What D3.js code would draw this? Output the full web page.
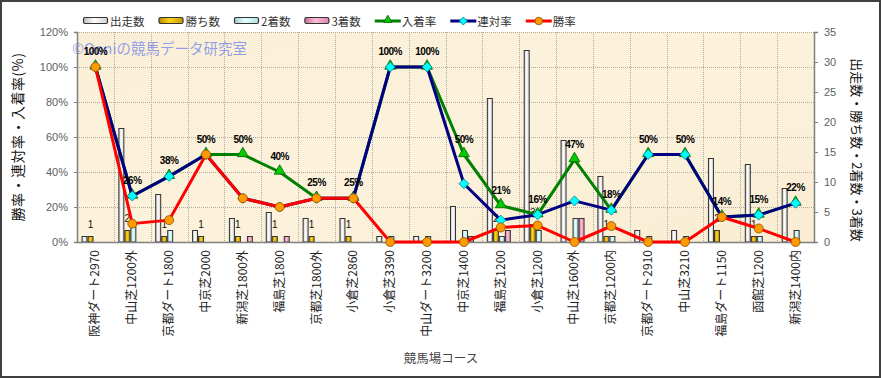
<!DOCTYPE html>
<html><head><meta charset="utf-8">
<script src="https://cdn.jsdelivr.net/npm/d3@7"></script>
<style>
html,body{margin:0;padding:0;background:#fff;}
svg{display:block;font-family:"Noto Sans CJK JP","Noto Sans",sans-serif;}
</style></head>
<body>
<svg id="chart" width="881" height="378"></svg>
<script>
const categories = ["阪神ダート2970","中山芝1200外","京都ダート1800","中京芝2000","新潟芝1800外","福島芝1800","京都芝1800外","小倉芝2860","小倉芝3390","中山ダート3200","中京芝1400","福島芝1200","小倉芝1200","中山芝1600外","京都芝1200内","京都ダート2910","中山芝3210","福島ダート1150","函館芝1200","新潟芝1400内"];
const runs   = [1,19,8,2,4,5,4,4,1,1,6,24,32,17,11,2,2,14,13,9];
const wins   = [1,2,1,1,1,1,1,1,0,0,0,2,3,0,1,0,0,2,1,0];
const second = [0,3,2,0,0,0,0,0,1,1,2,1,2,4,1,1,1,0,1,2];
const third  = [0,0,0,0,1,1,0,0,0,0,1,2,0,4,0,0,0,0,0,0];
const winRate    = [100,10.5,12.5,50,25,20,25,25,0,0,0,8.3,9.4,0,9.1,0,0,14.3,7.7,0];
const rentaiRate = [100,26.3,37.5,50,25,20,25,25,100,100,33.3,12.5,15.6,23.5,18.2,50,50,14.3,15.4,22.2];
const placeRate  = [100,26.3,37.5,50,50,40,25,25,100,100,50,20.8,15.6,47.1,18.2,50,50,14.3,15.4,22.2];
const placeLabels = ["100%","26%","38%","50%","50%","40%","25%","25%","100%","100%","50%","21%","16%","47%","18%","50%","50%","14%","15%","22%"];
const leftTicks = [0,20,40,60,80,100,120];
const rightTicks = [0,5,10,15,20,25,30,35];

const svg = d3.select("#chart");
const W = 881, H = 378;
const L = 77, R = 814, T = 32, B = 242;

// frame
svg.append("rect").attr("x",1).attr("y",1).attr("width",W-2).attr("height",H-2)
  .attr("fill","#fff").attr("stroke","#404040").attr("stroke-width",2);

const defs = svg.append("defs");
function grad(id, stops){
  const g = defs.append("linearGradient").attr("id",id).attr("x1","0").attr("x2","1").attr("y1","0").attr("y2","0");
  stops.forEach(s=>g.append("stop").attr("offset",s[0]).attr("stop-color",s[1]));
}
grad("gRuns",[[0,"#bdbdbd"],[0.45,"#ffffff"],[1,"#d0d0d0"]]);
grad("gWins",[[0,"#b88a00"],[0.45,"#ffd21a"],[1,"#c89600"]]);
grad("gSec",[[0,"#9fd0d0"],[0.45,"#e6ffff"],[1,"#b0e0e0"]]);
grad("gThird",[[0,"#c8709a"],[0.45,"#ffbcd8"],[1,"#d888aa"]]);
const plotGrad = defs.append("linearGradient").attr("id","gPlot").attr("x1","0").attr("x2","1").attr("y1","0").attr("y2","1");
plotGrad.append("stop").attr("offset",0).attr("stop-color","#faefd6");
plotGrad.append("stop").attr("offset",0.5).attr("stop-color","#fcf2dc");
plotGrad.append("stop").attr("offset",1).attr("stop-color","#f9edd3");

const x = d3.scaleBand().domain(categories).range([L,R]).paddingInner(0).paddingOuter(0);
const yL = d3.scaleLinear().domain([0,120]).range([B,T]);
const yR = d3.scaleLinear().domain([0,35]).range([B,T]);

// plot area
svg.append("rect").attr("x",L).attr("y",T).attr("width",R-L).attr("height",B-T).attr("fill","url(#gPlot)");

// gridlines
const grid = svg.append("g").attr("stroke","#b0aca0").attr("stroke-width",1).attr("stroke-dasharray","1,1");
leftTicks.filter(t=>t>0).forEach(t=>{
  grid.append("line").attr("x1",L).attr("x2",R).attr("y1",Math.round(yL(t))+0.5).attr("y2",Math.round(yL(t))+0.5);
});
categories.slice(1).forEach(c=>{
  const xx = Math.round(x(c))+0.5;
  grid.append("line").attr("x1",xx).attr("x2",xx).attr("y1",T).attr("y2",B);
});

// watermark (beneath the data)
svg.append("text").attr("x",72).attr("y",54).attr("font-size",14.5)
  .attr("fill","#6f82ee").attr("fill-opacity",0.75).text("©Ooniの競馬データ研究室");

// bars
const bw = x.bandwidth();
const barW = 6, barOff = 4.5;
const barSeries = [[runs,"gRuns"],[wins,"gWins"],[second,"gSec"],[third,"gThird"]];
const cntG = svg.append("g");
categories.forEach((c,i)=>{
  if(wins[i]>0){
    cntG.append("text").attr("x",x(c)+barOff+barW*1.5).attr("y",yR(wins[i])-8)
      .attr("text-anchor","middle").attr("font-size",10).attr("fill","#111")
      .attr("font-family","Liberation Sans, Arial, sans-serif").text(wins[i]);
  }
});
const barsG = svg.append("g");
barSeries.forEach((s,k)=>{
  categories.forEach((c,i)=>{
    const v = s[0][i];
    if(v<=0) return;
    barsG.append("rect").attr("x",x(c)+barOff+k*barW+0.5).attr("y",yR(v)+0.5)
      .attr("width",barW-1).attr("height",B-yR(v)-0.5)
      .attr("fill",`url(#${s[1]})`).attr("stroke","#333").attr("stroke-width",1);
  });
});

// axes
const axL = svg.append("g").attr("transform",`translate(${L},0)`)
  .call(d3.axisLeft(yL).tickValues(leftTicks).tickFormat(d=>d+"%").tickSize(3).tickPadding(6));
const axR = svg.append("g").attr("transform",`translate(${R},0)`)
  .call(d3.axisRight(yR).tickValues(rightTicks).tickSize(4).tickPadding(6));
[axL,axR].forEach(a=>{
  a.select(".domain").attr("stroke","#808080").attr("stroke-width",1.5);
  a.selectAll(".tick line").attr("stroke","#808080");
  a.selectAll("text").attr("fill","#606060").attr("font-size",11)
    .attr("font-family","Liberation Sans, Arial, sans-serif");
});
const axB = svg.append("g").attr("transform",`translate(0,${B})`)
  .call(d3.axisBottom(x).tickSize(0).tickPadding(8));
axB.select(".domain").attr("stroke","#808080").attr("stroke-width",1.5);
axB.selectAll("text").attr("fill","#222").attr("font-size",12)
  .attr("font-family","Noto Sans CJK JP, sans-serif")
  .attr("x",0).attr("y",0).attr("dy",null)
  .attr("text-anchor","end")
  .attr("transform","translate(0,8) rotate(-90) translate(0,4)");

// lines
const cx = c=>x(c)+bw/2;
function drawLine(vals,color){
  const line = d3.line().x((d,i)=>cx(categories[i])).y(d=>yL(d));
  svg.append("path").datum(vals).attr("d",line).attr("fill","none")
    .attr("stroke",color).attr("stroke-width",3).attr("stroke-linejoin","round");
}
drawLine(placeRate,"#008000");
const triG = svg.append("g");
placeRate.forEach((v,i)=>{
  triG.append("path").attr("d",d3.symbol(d3.symbolTriangle,52)())
    .attr("transform",`translate(${cx(categories[i])},${yL(v)-1})`)
    .attr("fill","#00cc00").attr("stroke","#006000").attr("stroke-width",0.8);
});
drawLine(rentaiRate,"#000080");
const diaG = svg.append("g");
rentaiRate.forEach((v,i)=>{
  diaG.append("path").attr("d","M0,-5L5,0L0,5L-5,0Z")
    .attr("transform",`translate(${cx(categories[i])},${yL(v)})`)
    .attr("fill","#00ffff").attr("stroke","#008080").attr("stroke-width",0.8);
});
drawLine(winRate,"#ff0000");
const cirG = svg.append("g");
winRate.forEach((v,i)=>{
  cirG.append("circle").attr("cx",cx(categories[i])).attr("cy",yL(v)).attr("r",4.5)
    .attr("fill","#ff9900").attr("stroke","#8a5000").attr("stroke-width",0.8);
});

// rate labels
placeRate.forEach((v,i)=>{
  svg.append("text").attr("x",cx(categories[i])).attr("y",yL(v)-12)
    .attr("text-anchor","middle").attr("font-size",10).attr("font-weight","bold")
    .attr("letter-spacing","-0.5").attr("fill","#000")
    .attr("font-family","Liberation Sans, Arial, sans-serif").text(placeLabels[i]);
});

// axis titles
svg.append("text").attr("transform",`translate(23,137) rotate(-90)`).attr("text-anchor","middle")
  .attr("font-size",14).attr("letter-spacing","0.5").attr("fill","#111").text("勝率・連対率・入着率(%)");
svg.append("text").attr("transform",`translate(852,150) rotate(90)`).attr("text-anchor","middle")
  .attr("font-size",13).attr("fill","#111").text("出走数・勝ち数・2着数・3着数");
svg.append("text").attr("x",441).attr("y",363).attr("text-anchor","middle")
  .attr("font-size",12.5).attr("fill","#444").text("競馬場コース");

// legend
const legendItems = [
  {name:"出走数",type:"bar",fill:"gRuns"},
  {name:"勝ち数",type:"bar",fill:"gWins"},
  {name:"2着数",type:"bar",fill:"gSec"},
  {name:"3着数",type:"bar",fill:"gThird"},
  {name:"入着率",type:"line",color:"#008000",marker:"tri"},
  {name:"連対率",type:"line",color:"#000080",marker:"dia"},
  {name:"勝率",type:"line",color:"#ff0000",marker:"cir"}
];
const lg = svg.append("g");
let lx = 83; const ly = 21;
legendItems.forEach(it=>{
  if(it.type==="bar"){
    lg.append("rect").attr("x",lx+0.5).attr("y",ly-3.5).attr("width",24).attr("height",6)
      .attr("rx",1.5).attr("fill",`url(#${it.fill})`).attr("stroke","#333").attr("stroke-width",1.2);
  } else {
    lg.append("line").attr("x1",lx).attr("x2",lx+26).attr("y1",ly).attr("y2",ly)
      .attr("stroke",it.color).attr("stroke-width",3);
    const mx = lx+13;
    if(it.marker==="tri") lg.append("path").attr("d",d3.symbol(d3.symbolTriangle,30)()).attr("transform",`translate(${mx},${ly-1})`).attr("fill","#00cc00").attr("stroke","#006000").attr("stroke-width",0.8);
    if(it.marker==="dia") lg.append("path").attr("d","M0,-4L4,0L0,4L-4,0Z").attr("transform",`translate(${mx},${ly})`).attr("fill","#00ffff").attr("stroke","#008080").attr("stroke-width",0.8);
    if(it.marker==="cir") lg.append("circle").attr("cx",mx).attr("cy",ly).attr("r",3.8).attr("fill","#ff9900").attr("stroke","#8a5000").attr("stroke-width",0.8);
  }
  const t = lg.append("text").attr("x",lx+27).attr("y",ly+4.5).attr("font-size",11.5).attr("fill","#333").text(it.name);
  lx = lx + 27 + t.node().getComputedTextLength() + 14;
});
</script>
</body></html>
